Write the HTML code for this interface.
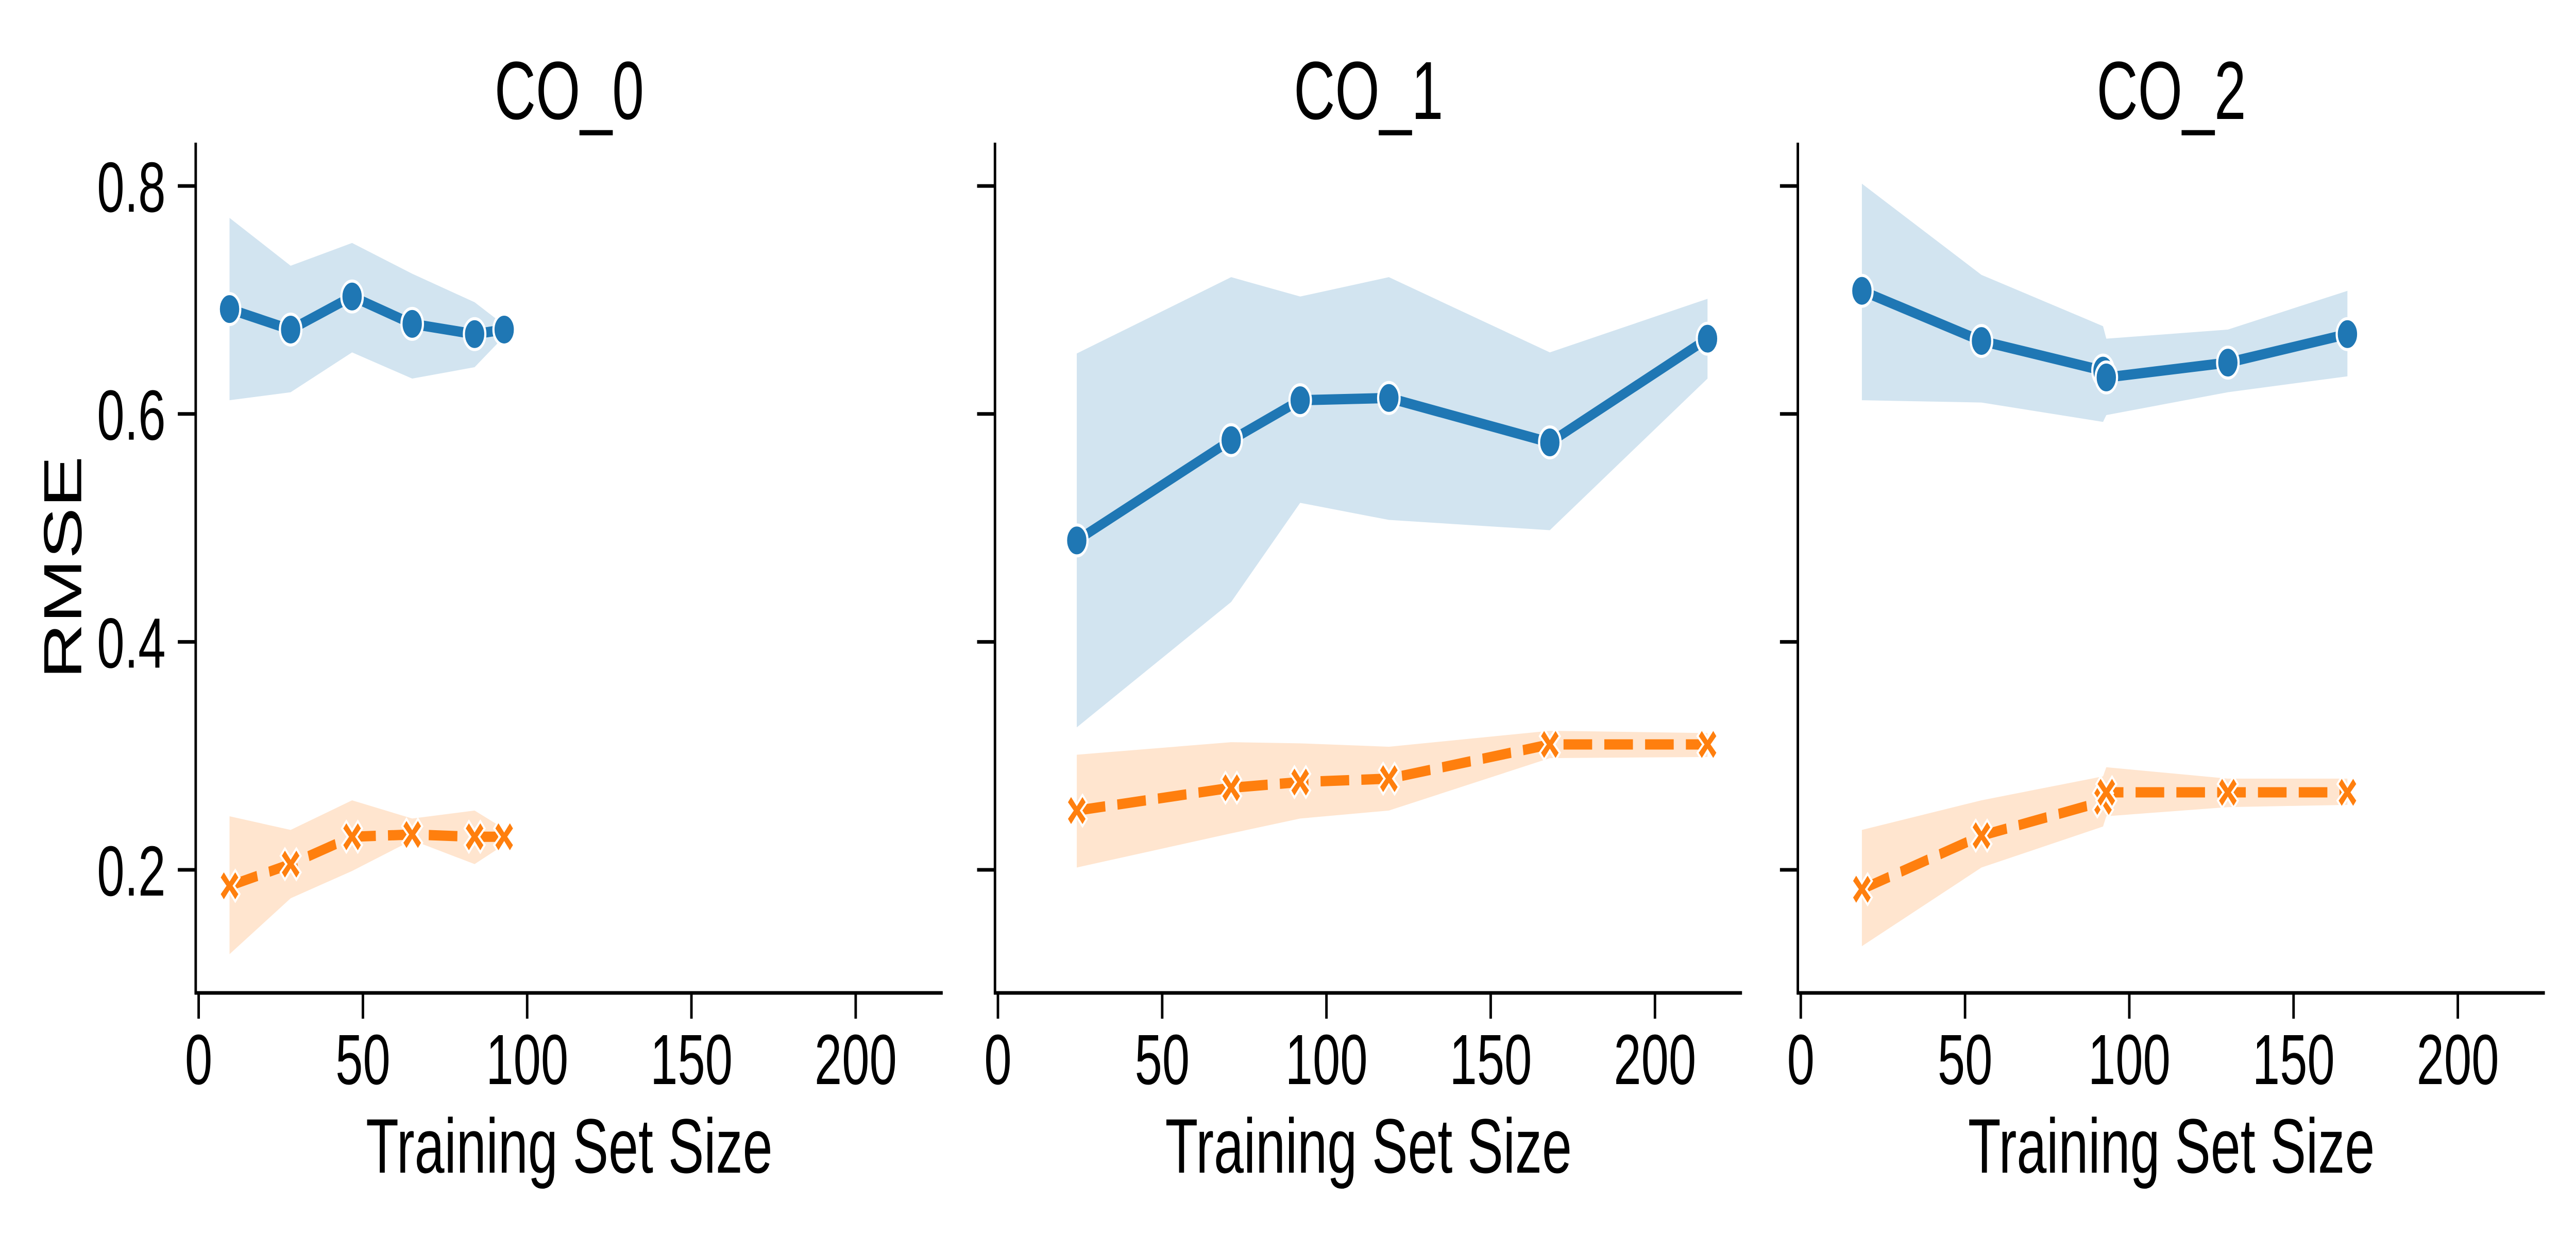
<!DOCTYPE html>
<html><head><meta charset="utf-8"><style>
html,body{margin:0;padding:0;background:#fff;overflow:hidden;width:100%;height:100%;}
svg{display:block;font-family:"Liberation Sans",Arial,sans-serif;width:100vw;height:100vh;}
</style></head><body>
<svg id="chart" viewBox="0 0 7200 2400" preserveAspectRatio="none" xmlns="http://www.w3.org/2000/svg"></svg>
<script>
const panelTitles = ["CO_0","CO_1","CO_2"];
const xTicks = [0,50,100,150,200];
const yTicks = [0.2,0.4,0.6,0.8];
const yTickLabels = ["0.2","0.4","0.6","0.8"];
// panel 0
const p0x = [9.4,28,46.7,65,84,93];
const p0blue = [0.692,0.674,0.703,0.679,0.670,0.674];
const p0blueHi = [0.772,0.730,0.750,0.723,0.698,0.678];
const p0blueLo = [0.612,0.619,0.654,0.631,0.641,0.668];
const p0orange = [0.186,0.205,0.229,0.231,0.229,0.229];
const p0orangeHi = [0.247,0.235,0.261,0.245,0.252,0.236];
const p0orangeLo = [0.126,0.175,0.199,0.226,0.205,0.222];
// panel 1
const p1x = [24,71,92,119,168,216];
const p1blue = [0.489,0.577,0.612,0.614,0.575,0.666];
const p1blueHi = [0.653,0.720,0.703,0.720,0.654,0.701];
const p1blueLo = [0.325,0.435,0.522,0.507,0.498,0.631];
const p1orange = [0.252,0.272,0.277,0.280,0.310,0.310];
const p1orangeHi = [0.301,0.312,0.311,0.308,0.322,0.320];
const p1orangeLo = [0.202,0.232,0.245,0.252,0.298,0.299];
// panel 2
const p2x = [18.6,55,92,93,130,166.4];
const p2blue = [0.708,0.664,0.638,0.632,0.645,0.670];
const p2blueHi = [0.802,0.722,0.677,0.666,0.674,0.708];
const p2blueLo = [0.612,0.610,0.593,0.599,0.619,0.633];
const p2orange = [0.183,0.230,0.260,0.268,0.268,0.268];
const p2orangeHi = [0.235,0.261,0.282,0.290,0.280,0.280];
const p2orangeLo = [0.133,0.202,0.238,0.247,0.255,0.257];

const panels = [
 {x:p0x,b:p0blue,bh:p0blueHi,bl:p0blueLo,o:p0orange,oh:p0orangeHi,ol:p0orangeLo},
 {x:p1x,b:p1blue,bh:p1blueHi,bl:p1blueLo,o:p1orange,oh:p1orangeHi,ol:p1orangeLo},
 {x:p2x,b:p2blue,bh:p2blueHi,bl:p2blueLo,o:p2orange,oh:p2orangeHi,ol:p2orangeLo}
];
const lefts = [547,2781,5025];
const W = 2088, TOP = 277, BOT = 1928;
const XMIN = -0.9, XMAX = 226.5, YMIN = 0.092, YMAX = 0.838;
const NS = "http://www.w3.org/2000/svg";
const svg = document.getElementById('chart');
function mk(tag, attrs, parent){const e=document.createElementNS(NS,tag);for(const k in attrs)e.setAttribute(k,attrs[k]);(parent||svg).appendChild(e);return e;}
function yS(v){return BOT-(v-YMIN)/(YMAX-YMIN)*(BOT-TOP);}

panels.forEach((p,i)=>{
  const L = lefts[i];
  const xS = v => L+(v-XMIN)/(XMAX-XMIN)*W;
  const g = mk('g',{});
  
  
  [[p.bh,p.bl,'#1f77b4','blue'],[p.oh,p.ol,'#ff7f0e','orange']].forEach(([hi,lo,c,n])=>{
    let pts = p.x.map((x,k)=>xS(x)+','+yS(hi[k]));
    pts = pts.concat(p.x.map((x,k)=>xS(x)+','+yS(lo[k])).reverse());
    const b = mk('polygon',{points:pts.join(' '),fill:c,'fill-opacity':0.2},g);
    
    
  });
  const bl = mk('polyline',{points:p.x.map((x,k)=>xS(x)+','+yS(p.b[k])).join(' '),fill:'none',stroke:'#1f77b4','stroke-width':20,'stroke-linejoin':'round'},g);
  
  
  const ol = mk('polyline',{points:p.x.map((x,k)=>xS(x)+','+yS(p.o[k])).join(' '),fill:'none',stroke:'#ff7f0e','stroke-width':20,'stroke-dasharray':'80 34'},g);
  
  
  p.x.forEach((x,k)=>{
    const c = mk('circle',{cx:xS(x),cy:yS(p.b[k]),r:30,fill:'#1f77b4',stroke:'#fff','stroke-width':6},g);
    
    
  });
  p.x.forEach((x,k)=>{
    const cx=xS(x), cy=yS(p.o[k]);
    const d=`M${cx-28},${cy-16} L${cx-16},${cy-30} L${cx},${cy-12} L${cx+16},${cy-30} L${cx+28},${cy-16} L${cx+12},${cy} L${cx+28},${cy+16} L${cx+16},${cy+30} L${cx},${cy+12} L${cx-16},${cy+30} L${cx-28},${cy+16} L${cx-12},${cy} Z`;
    const m = mk('path',{d:d,fill:'#ff7f0e',stroke:'#fff','stroke-width':5,'stroke-linejoin':'miter'},g);
    
    
  });
  const ya = mk('line',{x1:L,y1:TOP,x2:L,y2:BOT+3,stroke:'#000','stroke-width':7},g);
  
  
  const xa = mk('line',{x1:L-3,y1:BOT,x2:L+W,y2:BOT,stroke:'#000','stroke-width':7},g);
  
  
  xTicks.forEach(t=>{
    const tk = mk('line',{x1:xS(t),y1:BOT,x2:xS(t),y2:BOT+50,stroke:'#000','stroke-width':7},g);
    
    
    const tl = mk('text',{x:xS(t),y:2105,'font-size':138,'text-anchor':'middle',fill:'#000'},g);
    tl.textContent = String(t);
    
    
  });
  yTicks.forEach((t,k)=>{
    const tk = mk('line',{x1:L-50,y1:yS(t),x2:L,y2:yS(t),stroke:'#000','stroke-width':7},g);
    
    
    if(i===0){
      const tl = mk('text',{x:L-84,y:yS(t)+50,'font-size':138,'text-anchor':'end',fill:'#000'},g);
      tl.textContent = yTickLabels[k];
      
      
    }
  });
  const ti = mk('text',{x:L+W/2,y:231,'font-size':160,'text-anchor':'middle',fill:'#000'},g);
  ti.textContent = panelTitles[i];
  
  
  const xl = mk('text',{x:L+W/2,y:2277,'font-size':150,'text-anchor':'middle',fill:'#000'},g);
  xl.textContent = 'Training Set Size';
  
  
});
const yl = mk('text',{x:0,y:0,'font-size':150,'text-anchor':'middle',fill:'#000',transform:'translate(227,1102) rotate(-90)'});
yl.textContent = 'RMSE';


</script>
</body></html>
